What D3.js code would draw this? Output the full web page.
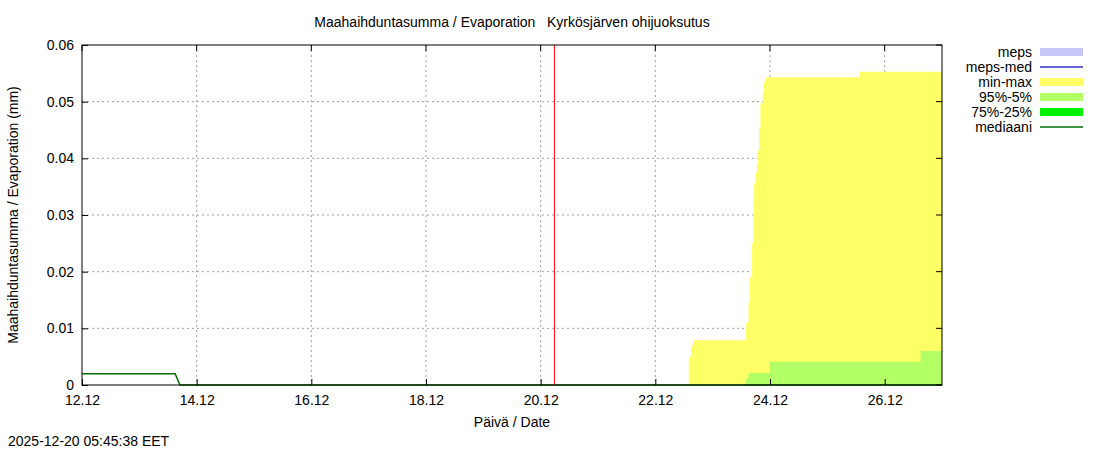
<!DOCTYPE html>
<html><head><meta charset="utf-8">
<script src="https://cdn.jsdelivr.net/npm/d3@7"></script>
<style>body{margin:0;background:#fff}svg{font-family:"Liberation Sans",Arial,sans-serif}</style>
</head><body><svg id="chart" width="1100" height="450"></svg>
<script>
/* ── Data ── */
const minMaxTimes = ["2025-12-12T00:00","2025-12-22T14:00","2025-12-22T15:00","2025-12-22T16:00","2025-12-23T14:00","2025-12-23T15:00","2025-12-23T15:30","2025-12-23T16:30","2025-12-23T17:00","2025-12-23T17:20","2025-12-23T18:00","2025-12-23T18:30","2025-12-23T19:00","2025-12-23T19:30","2025-12-23T20:00","2025-12-23T21:00","2025-12-23T21:30","2025-12-23T22:20","2025-12-23T23:20","2025-12-25T13:40","2025-12-27T00:00"];
const minMaxHigh  = [0,0.005,0.007,0.0079,0.011,0.0146,0.019,0.025,0.033,0.0356,0.0374,0.039,0.0414,0.0455,0.0497,0.052,0.0535,0.0543,0.0543,0.0553,0.0553];
const p95Times = ["2025-12-12T00:00","2025-12-23T13:00","2025-12-23T14:00","2025-12-23T15:00","2025-12-24T00:00","2025-12-26T15:00","2025-12-27T00:00"];
const p95High  = [0,0,0.0012,0.0021,0.0041,0.006,0.006];
const medTimes = ["2025-12-12T00:00","2025-12-13T15:00","2025-12-13T17:00","2025-12-27T00:00"];
const medVals  = [0.002,0.002,0,0];
const nowTime = "2025-12-20T05:45";
const yTicks = [0,0.01,0.02,0.03,0.04,0.05,0.06];
const legendItems = [
  {label:"meps", color:"#c8c8f8", kind:"box"},
  {label:"meps-med", color:"#3030c0", kind:"line"},
  {label:"min-max", color:"#ffff66", kind:"box"},
  {label:"95%-5%", color:"#b2ff66", kind:"box"},
  {label:"75%-25%", color:"#00ee00", kind:"box"},
  {label:"mediaani", color:"#007000", kind:"line"}
];

const P = d3.timeParse("%Y-%m-%dT%H:%M");
const L = 82, R = 942, T = 45, B = 385;
const svg = d3.select('#chart');
const x = d3.scaleTime().domain([P("2025-12-12T00:00"), P("2025-12-27T00:00")]).range([L, R]);
const y = d3.scaleLinear().domain([0, 0.06]).range([B, T]);
const pts = (ts, vs) => ts.map((t, i) => ({t: P(t), v: vs[i]}));

/* grid */
const xTicks = d3.range(0, 8).map(i => d3.timeDay.offset(P("2025-12-12T00:00"), i * 2));
const grid = svg.append('g').attr('stroke', '#a0a0a0').attr('stroke-dasharray', '2,3');
xTicks.slice(1).forEach(d => grid.append('line').attr('x1', x(d)).attr('x2', x(d)).attr('y1', T).attr('y2', B));
yTicks.slice(1, -1).forEach(v => grid.append('line').attr('x1', L).attr('x2', R).attr('y1', y(v)).attr('y2', y(v)));

/* areas */
const area = d3.area().x(d => x(d.t)).y0(y(0)).y1(d => y(d.v)).curve(d3.curveStepAfter);
svg.append('path').datum(pts(minMaxTimes, minMaxHigh)).attr('fill', '#ffff66').attr('d', area);
svg.append('path').datum(pts(p95Times, p95High)).attr('fill', '#b2ff66').attr('d', area);

/* median */
svg.append('path').datum(pts(medTimes, medVals)).attr('fill', 'none').attr('stroke', '#007000').attr('stroke-width', 1.5)
  .attr('d', d3.line().x(d => x(d.t)).y(d => y(d.v)));

/* now line */
svg.append('line').attr('x1', x(P(nowTime))).attr('x2', x(P(nowTime))).attr('y1', T).attr('y2', B).attr('stroke', '#ff0000');

/* frame & axes */
svg.append('rect').attr('x', L).attr('y', T).attr('width', R - L).attr('height', B - T).attr('fill', 'none').attr('stroke', '#000');
const xa = svg.append('g').attr('transform', `translate(0,${B})`)
  .call(d3.axisBottom(x).tickValues(xTicks).tickFormat(d3.timeFormat("%d.%m")).tickSize(-6).tickPadding(10));
const ya = svg.append('g').attr('transform', `translate(${L},0)`)
  .call(d3.axisLeft(y).tickValues(yTicks).tickFormat(v => v === 0 ? "0" : d3.format(".2f")(v)).tickSize(-6).tickPadding(8));
[xa, ya].forEach(a => { a.select('.domain').remove(); a.selectAll('text').attr('font-size', 14).attr('fill', '#000').attr('font-family', '"Liberation Sans",Arial,sans-serif'); });
// mirror ticks on top/right
xTicks.forEach(d => svg.append('line').attr('x1', x(d)).attr('x2', x(d)).attr('y1', T).attr('y2', T + 6).attr('stroke', '#000'));
yTicks.forEach(v => svg.append('line').attr('x1', R).attr('x2', R - 6).attr('y1', y(v)).attr('y2', y(v)).attr('stroke', '#000'));

/* texts */
svg.append('text').attr('x', 512).attr('y', 27).attr('text-anchor', 'middle').attr('font-size', 14)
  .text("Maahaihduntasumma / Evaporation   Kyrkösjärven ohijuoksutus").attr('xml:space', 'preserve').style('white-space', 'pre');
svg.append('text').attr('x', 512).attr('y', 427).attr('text-anchor', 'middle').attr('font-size', 14).text("Päivä / Date");
svg.append('text').attr('transform', 'translate(18,215) rotate(-90)').attr('text-anchor', 'middle').attr('font-size', 14)
  .text("Maahaihduntasumma / Evaporation (mm)");
svg.append('text').attr('x', 8).attr('y', 446).attr('font-size', 14).text("2025-12-20 05:45:38 EET");

/* legend */
legendItems.forEach((it, i) => {
  const ly = 52 + i * 15;
  svg.append('text').attr('x', 1032).attr('y', ly + 5).attr('text-anchor', 'end').attr('font-size', 14).text(it.label);
  if (it.kind === 'box') svg.append('rect').attr('x', 1040).attr('y', ly - 4).attr('width', 43).attr('height', 8).attr('fill', it.color);
  else svg.append('line').attr('x1', 1040).attr('x2', 1083).attr('y1', ly).attr('y2', ly).attr('stroke', it.color).attr('stroke-width', 1.5);
});
</script></body></html>
